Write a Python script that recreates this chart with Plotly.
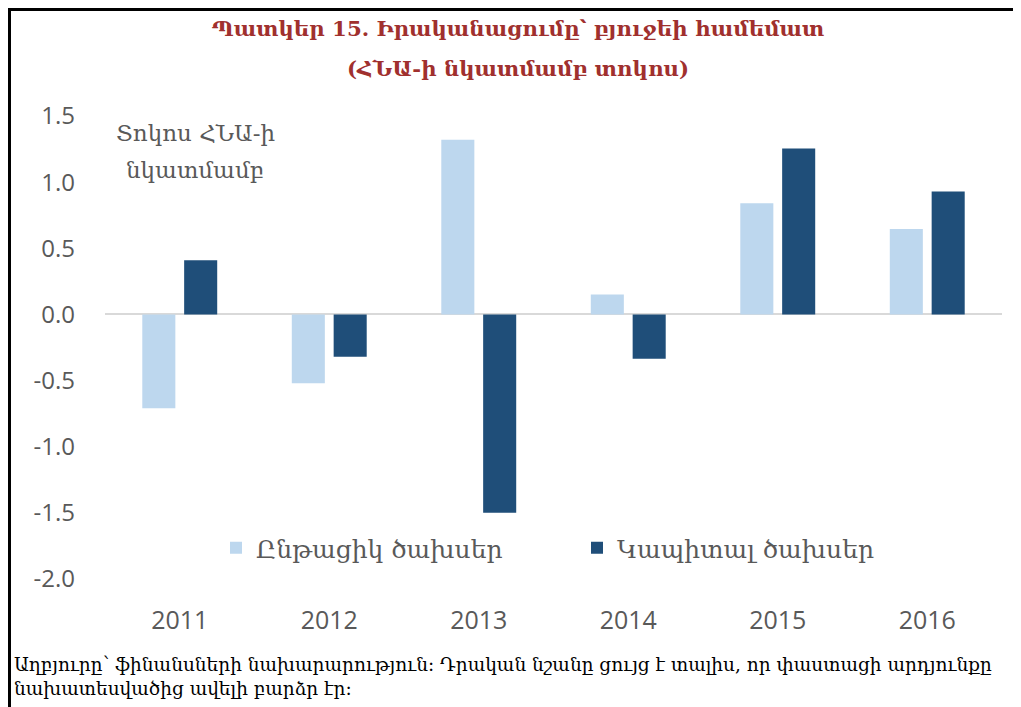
import plotly.graph_objects as go

years = ["2011", "2012", "2013", "2014", "2015", "2016"]
current_exp = [-0.71, -0.52, 1.32, 0.15, 0.84, 0.645]
capital_exp = [0.41, -0.32, -1.50, -0.335, 1.255, 0.93]
series_names = ["Ընթացիկ ծախսեր", "Կապիտալ ծախսեր"]
y_ticks = [-2.0, -1.5, -1.0, -0.5, 0.0, 0.5, 1.0, 1.5]
y_tick_labels = ["-2.0", "-1.5", "-1.0", "-0.5", "0.0", "0.5", "1.0", "1.5"]
title_lines = ["Պատկեր 15. Իրականացումը՝ բյուջեի համեմատ", "(ՀՆԱ-ի նկատմամբ տոկոս)"]
unit_lines = ["Տոկոս ՀՆԱ-ի", "նկատմամբ"]
source_text = ("Աղբյուրը՝ ֆինանսների նախարարություն: Դրական նշանը ցույց է տալիս, որ փաստացի արդյունքը"
               "<br>նախատեսվածից ավելի բարձր էր:")

# page body has an 8px margin; layout is expressed in reference-pixel coords
OFF = 8
W, H = 1013, 699
L, R, T, B = 97, 19, 108, 128
PW, PH = W - L - R, H - T - B


def px_x(px):
    return (px - OFF - L) / PW


def px_y(py):
    return (H - B - (py - OFF)) / PH


GRAY = "#595959"
SERIF = "DejaVu Serif"
SANS = "Open Sans"
RED = "#A0302E"

fig = go.Figure()
fig.add_trace(go.Bar(x=years, y=current_exp, name=series_names[0],
                     marker=dict(color="#BDD7EE", line=dict(width=0))))
fig.add_trace(go.Bar(x=years, y=capital_exp, name=series_names[1],
                     marker=dict(color="#1F4E79", line=dict(width=0))))

fig.update_layout(
    width=W, height=H,
    margin=dict(l=L, r=R, t=T, b=B),
    paper_bgcolor="white", plot_bgcolor="white",
    barmode="group", bargap=0.44, bargroupgap=0.21,
    title=dict(
        text=title_lines[0],
        x=(518 - OFF) / W, xanchor="center", y=1 - (29 - OFF) / H, yanchor="middle",
        font=dict(family=SERIF, size=21.3, color=RED, weight="bold"),
    ),
    xaxis=dict(showgrid=False, showline=False, ticks="", zeroline=False,
               tickfont=dict(family=SANS, size=25, color=GRAY),
               ticklabelstandoff=24),
    yaxis=dict(range=[-2.0, 1.5], tickvals=y_ticks, ticktext=y_tick_labels,
               showgrid=False, showline=False, ticks="",
               zeroline=True, zerolinecolor="#D9D9D9", zerolinewidth=2,
               tickfont=dict(family=SANS, size=24, color=GRAY),
               ticklabelstandoff=29),
    legend=dict(orientation="h", x=px_x(216), xanchor="left",
                y=px_y(548), yanchor="middle",
                font=dict(family=SERIF, size=25, color=GRAY),
                bgcolor="rgba(0,0,0,0)", entrywidth=316, entrywidthmode="pixels",
                traceorder="normal"),
    showlegend=True,
)

fig.add_annotation(text=title_lines[1], xref="paper", yref="paper",
                   x=px_x(518), y=px_y(68), xanchor="center", yanchor="middle",
                   showarrow=False,
                   font=dict(family=SERIF, size=21.3, color=RED, weight="bold"))

for line, ypx in zip(unit_lines, [133, 170]):
    fig.add_annotation(text=line, xref="paper", yref="paper",
                       x=px_x(195), y=px_y(ypx), xanchor="center", yanchor="middle",
                       showarrow=False,
                       font=dict(family=SERIF, size=23, color=GRAY))

fig.add_annotation(text=source_text, xref="paper", yref="paper",
                   x=px_x(12), y=px_y(676), xanchor="left", yanchor="middle",
                   showarrow=False, align="left",
                   font=dict(family=SERIF, size=18.5, color="black"))

# frame lines (top and left)
fig.add_shape(type="line", xref="paper", yref="paper",
              x0=px_x(8), x1=px_x(OFF + W - 2), y0=px_y(9.5), y1=px_y(9.5),
              line=dict(color="black", width=3))
fig.add_shape(type="line", xref="paper", yref="paper",
              x0=px_x(9.5), x1=px_x(9.5), y0=px_y(8), y1=px_y(OFF + H),
              line=dict(color="black", width=3))

fig.write_html("out.html", config={"displayModeBar": False})
